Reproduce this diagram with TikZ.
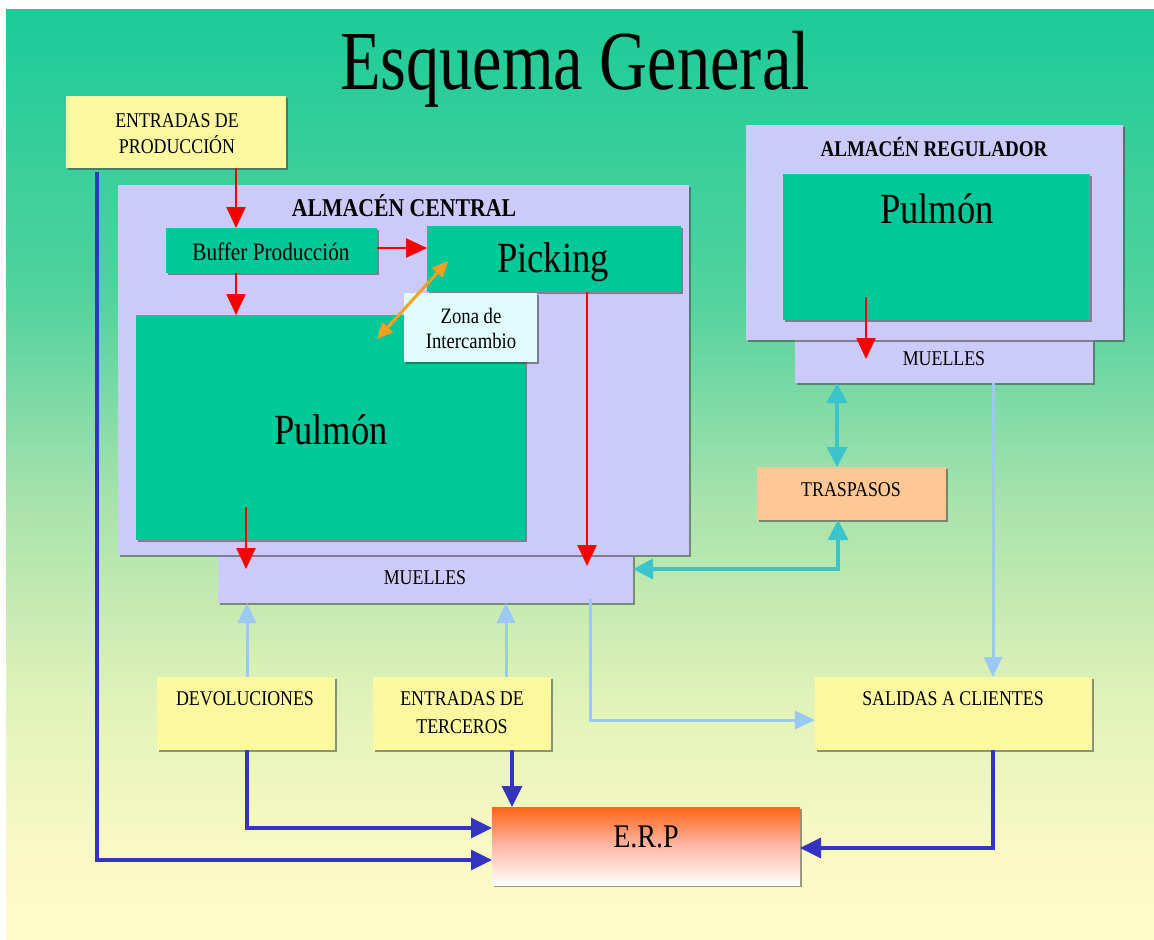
\documentclass[tikz,border=0pt]{standalone}
\usepackage{fontspec}
\setmainfont{Liberation Serif}[FakeStretch=0.85]
\newfontfamily\titlefont{Liberation Serif}[FakeStretch=0.79]
\usetikzlibrary{arrows.meta,fit,shadows}
\definecolor{bgA}{HTML}{1CCB98}
\definecolor{bgB}{HTML}{52D29E}
\definecolor{bgC}{HTML}{A8E2AC}
\definecolor{bgD}{HTML}{E2F3B8}
\definecolor{bgE}{HTML}{FAF9C4}
\definecolor{bgF}{HTML}{FFFCC8}
\definecolor{cYel}{HTML}{FCF8A0}
\definecolor{cLav}{HTML}{CBCAF8}
\definecolor{cTeal}{HTML}{00C899}
\definecolor{cZona}{HTML}{E0FCFC}
\definecolor{cPeach}{HTML}{FDC896}
\definecolor{cErpTop}{HTML}{FF6418}
\definecolor{cErpMid}{HTML}{FFB8A8}
\definecolor{cRed}{HTML}{F80000}
\definecolor{cOrange}{HTML}{F8A020}
\definecolor{cCyan}{HTML}{3CC4CC}
\definecolor{cLight}{HTML}{9CC8F4}
\definecolor{cDark}{HTML}{3434C0}
\pgfdeclareverticalshading{bgshade}{100bp}{color(0bp)=(bgF); color(25bp)=(bgF); color(29.5bp)=(bgE); color(37.5bp)=(bgD); color(48.5bp)=(bgC); color(59.5bp)=(bgB); color(75bp)=(bgA); color(100bp)=(bgA)}
\begin{document}
\begin{tikzpicture}[x=0.5pt,y=-0.5pt,
  box/.style={inner sep=0pt, outer sep=0pt, drop shadow={shadow xshift=0.9pt, shadow yshift=-0.9pt, fill=black!75, opacity=0.55}},
  yelbox/.style={box, fill=cYel},
  lavbox/.style={box, fill=cLav},
  tealbox/.style={box, fill=cTeal},
  zonabox/.style={box, fill=cZona},
  peachbox/.style={box, fill=cPeach},
  erpbox/.style={box, top color=cErpTop, bottom color=white, middle color=cErpMid},
  lbl/.style={inner sep=0pt, anchor=base, font=\fontsize{10.5}{12}\selectfont, text=black},
  boldlbl/.style={lbl, font=\fontsize{12.8}{14}\selectfont\bfseries},
  biglbl/.style={lbl, font=\fontsize{21.5}{24}\selectfont},
  redarr/.style={draw=cRed, line width=1.2pt, -{Triangle[length=10.5pt,width=9.5pt]}},
  orgarr/.style={draw=cOrange, line width=1.5pt, {Triangle[length=8pt,width=7pt]}-{Triangle[length=8pt,width=7pt]}},
  cyanarr/.style={draw=cCyan, line width=1.8pt, {Triangle[length=10pt,width=10pt]}-{Triangle[length=10pt,width=10pt]}},
  lightarr/.style={draw=cLight, line width=1.5pt, -{Triangle[length=10pt,width=9pt]}},
  darkarr/.style={draw=cDark, line width=1.6pt, -{Triangle[length=10.5pt,width=10pt]}}
]
\useasboundingbox (0,0) rectangle (1154,939);
\fill[white] (0,0) rectangle (1154,939);
\shade[shading=bgshade] (6,9) rectangle (1154,939);

% title
\node[lbl, font=\titlefont\fontsize{42}{46}\selectfont] (title) at (575,89) {Esquema General};

% boxes
\node[yelbox, fit={(66,96)(286,168)}] (entprod) {};
\node[lavbox, fit={(218,555)(633,603)}] (mucen) {};
\node[lavbox, fit={(118,185)(689,555)}] (alcen) {};
\node[tealbox, fit={(166,228)(377,273)}] (buf) {};
\node[tealbox, fit={(427,226)(681,292)}] (pick) {};
\node[tealbox, fit={(136,315)(525,540)}] (pulc) {};
\node[zonabox, fit={(404,293)(537,362)}] (zona) {};
\node[lavbox, fit={(795,340)(1093,383)}] (mureg) {};
\node[lavbox, fit={(746,125)(1123,340)}] (alreg) {};
\node[tealbox, fit={(783,174)(1090,320)}] (pulr) {};
\node[peachbox, fit={(757,467)(946,520)}] (tras) {};
\node[yelbox, fit={(157,677)(335,750)}] (devol) {};
\node[yelbox, fit={(373,677)(551,750)}] (terc) {};
\node[yelbox, fit={(815,677)(1092,750)}] (sal) {};
\node[erpbox, fit={(492,807)(800,885)}] (erp) {};

% texts
\node[lbl] (t-ep1) at (177,127) {ENTRADAS DE};
\node[lbl] (t-ep2) at (177,153) {PRODUCCIÓN};
\node[boldlbl] (t-alcen) at (404,216) {ALMACÉN CENTRAL};
\node[lbl, font=\fontsize{12.5}{14}\selectfont] (t-buf) at (271,260) {Buffer Producción};
\node[biglbl] (t-pick) at (553,272) {Picking};
\node[lbl, font=\fontsize{11}{13}\selectfont] (t-z1) at (471,323) {Zona de};
\node[lbl, font=\fontsize{11}{13}\selectfont] (t-z2) at (471,348) {Intercambio};
\node[biglbl] (t-pulc) at (331,444) {Pulmón};
\node[lbl] (t-mucen) at (425,584) {MUELLES};
\node[boldlbl, font=\fontsize{11.2}{13}\selectfont\bfseries] (t-alreg) at (934,156) {ALMACÉN REGULADOR};
\node[biglbl] (t-pulr) at (937,223) {Pulmón};
\node[lbl] (t-mureg) at (944,365) {MUELLES};
\node[lbl] (t-tras) at (851,496) {TRASPASOS};
\node[lbl] (t-devol) at (245,705) {DEVOLUCIONES};
\node[lbl] (t-t1) at (462,705) {ENTRADAS DE};
\node[lbl] (t-t2) at (462,733) {TERCEROS};
\node[lbl] (t-sal) at (953,705) {SALIDAS A CLIENTES};
\node[lbl, font=\fontsize{16.5}{18}\selectfont] (t-erp) at (646,847) {E.R.P};

% named points
\coordinate (pulcIn) at (246,507);
\coordinate (pulrIn) at (866,297);
\coordinate (pickOut) at (587,292);
\coordinate (cyCorner) at (838,569);
\coordinate (lbCorner) at (590,720);
\coordinate (dkLeftTop) at (97,172);
\coordinate (dkLeftCorner) at (97,860);
\coordinate (dkDevCorner) at (247,828);
\coordinate (dkSalCorner) at (993,848);

% red arrows
\draw[redarr] (236,0 |- entprod.south) -- (236,0 |- buf.north);
\draw[redarr] (236,0 |- buf.south) -- (236,0 |- pulc.north);
\draw[redarr] (0,248 -| buf.east) -- (0,248 -| pick.west);
\draw[redarr] (pickOut) -- (587,566);
\draw[redarr] (pulcIn) -- (246,569);
\draw[redarr] (pulrIn) -- (866,359);
% orange double arrow
\draw[orgarr] (448,261) -- (377,339);
% cyan
\draw[cyanarr] (837,0 |- mureg.south) -- (837,0 |- tras.north);
\draw[cyanarr] (838,0 |- tras.south) -- (cyCorner) -- (cyCorner -| mucen.east);
% light blue
\draw[lightarr] (247,0 |- devol.north) -- (247,0 |- mucen.south);
\draw[lightarr] (506,0 |- terc.north) -- (506,0 |- mucen.south);
\draw[lightarr] (590,599) -- (lbCorner) -- (lbCorner -| sal.west);
\draw[lightarr] (993,0 |- mureg.south) -- (993,0 |- sal.north);
% dark blue
\draw[darkarr] (dkLeftTop) -- (dkLeftCorner) -- (dkLeftCorner -| erp.west);
\draw[darkarr] (247,0 |- devol.south) -- (dkDevCorner) -- (dkDevCorner -| erp.west);
\draw[darkarr] (512,0 |- terc.south) -- (512,0 |- erp.north);
\draw[darkarr] (993,0 |- sal.south) -- (dkSalCorner) -- (dkSalCorner -| erp.east);
\end{tikzpicture}
\end{document}
